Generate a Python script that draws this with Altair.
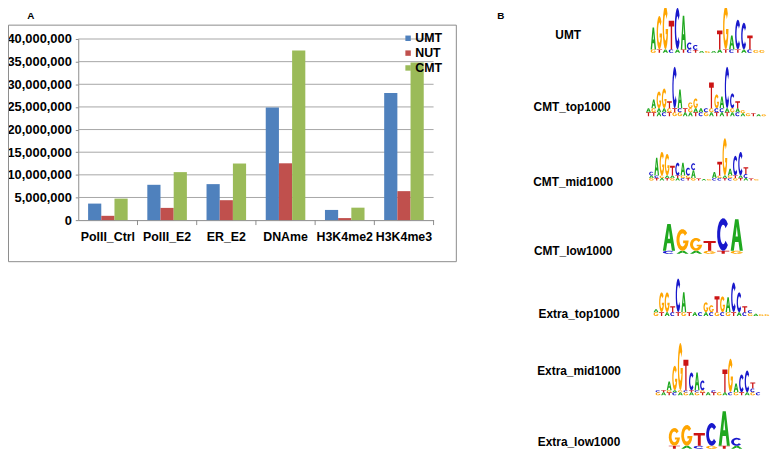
import altair as alt
import numpy as np
import pandas as pd

FONT = "Liberation Sans"
MARGIN = 8
W, H = 776, 447

# ---------------- Panel A data ----------------
CATEGORIES = ["PolII_Ctrl", "PolII_E2", "ER_E2", "DNAme", "H3K4me2", "H3K4me3"]
SERIES = ["UMT", "NUT", "CMT"]
UMT_VALUES = [3.65e6, 7.8e6, 7.95e6, 24.9e6, 2.25e6, 28.1e6]
NUT_VALUES = [0.95e6, 2.7e6, 4.4e6, 12.55e6, 0.45e6, 6.4e6]
CMT_VALUES = [4.75e6, 10.6e6, 12.5e6, 37.45e6, 2.75e6, 34.8e6]
Y_TICKS = [0, 5e6, 10e6, 15e6, 20e6, 25e6, 30e6, 35e6, 40e6]
SERIES_COLORS = ["#4F81BD", "#C0504D", "#9BBB59"]

# ---------------- Panel B data (sequence logos) ----------------
LOGO_NAMES = ["UMT", "CMT_top1000", "CMT_mid1000", "CMT_low1000",
              "Extra_top1000", "Extra_mid1000", "Extra_low1000"]

# letters of each column, bottom -> top
LOGO_LETTERS = {
    "UMT": ["GA", "TG", "AG", "CT", "AC", "TA", "CC", "TC", "A", "G", "A",
            "AT", "TG", "CA", "TC", "AC", "CT", "G", "G"],
    "CMT_top1000": ["TA", "TGA", "AAG", "CAG", "TGT", "GTC", "GCA", "AT", "AGG",
                    "TAG", "CA", "GC", "AGT", "TCG", "ACA", "TAC", "AGC", "CAT",
                    "AG", "G", "T", "A", "G"],
    "CMT_mid1000": ["GAC", "TCA", "AGG", "TAG", "GAT", "ATC", "CGA", "TGC", "GAC",
                    "T", "A", "G", "CA", "CGT", "TAG", "CGA", "GTC", "TAC", "ACT",
                    "T", "G"],
    "CMT_low1000": ["CA", "AG", "AG", "GT", "TC", "GA"],
    "Extra_top1000": ["GA", "TG", "AG", "CT", "TC", "GA", "T", "A", "C", "AG", "CG",
                      "GT", "CG", "GA", "TC", "AC", "CT", "GC", "A", "G", "G"],
    "Extra_mid1000": ["GC", "AT", "TGA", "CAG", "AGG", "GCT", "ATC", "GCA", "TGC",
                      "A", "TC", "G", "AT", "CG", "GA", "TC", "AC", "GCT", "C"],
    "Extra_low1000": ["TG", "AG", "CT", "GC", "TA", "AC"],
}
# letter heights of each column, bottom -> top
LOGO_HEIGHTS = {
    "UMT": [[3.5, 22], [3.5, 34], [3.5, 44], [3.5, 29], [3.5, 42], [3.5, 34],
            [3.5, 7], [3, 5], [2], [2], [2], [3.5, 19], [3.5, 44], [3.5, 14],
            [3.5, 30], [3.5, 27], [3.5, 14], [3], [3]],
    "CMT_top1000": [[4, 4], [4, 4, 9], [4, 4, 17], [4, 4, 20], [4, 4, 7], [4, 4, 42],
                    [4, 4, 19], [4, 4], [4, 4, 6], [4, 4, 10], [4, 4], [4, 4],
                    [4, 4, 26], [4, 4, 14], [4, 4, 12], [4, 4, 42], [4, 4, 15],
                    [4, 4, 7], [3, 3], [3], [3], [2], [2]],
    "CMT_mid1000": [[2.5, 2.5, 4], [2.5, 2.5, 18], [2.5, 2.5, 24], [2.5, 2.5, 22],
                    [2.5, 2.5, 10], [2.5, 2.5, 13], [2.5, 2.5, 13], [2.5, 2.5, 8],
                    [2.5, 8, 7], [2], [1.5], [1.5], [2.5, 6], [2.5, 2.5, 14],
                    [2.5, 2.5, 38], [2.5, 2.5, 7], [2.5, 2.5, 20], [2.5, 2.5, 24],
                    [2.5, 4, 7], [2], [1.5]],
    "CMT_low1000": [[3, 27], [3, 22], [3, 13], [3, 10], [3, 33], [3, 32]],
    "Extra_top1000": [[4, 3], [4, 20], [4, 20], [4, 6], [4, 34], [4, 20], [4], [4],
                      [4], [4, 10], [4, 7], [4, 16], [4, 16], [4, 15], [4, 30],
                      [4, 20], [4, 6], [3, 3], [2.5], [2], [2]],
    "Extra_mid1000": [[3, 2], [3, 2], [3, 2, 9], [3, 2, 25], [3, 2, 48], [3, 2, 31],
                      [3, 2, 18], [3, 2, 18], [3, 2, 10], [3], [3, 2], [3], [3, 23],
                      [3, 34], [3, 9], [3, 18], [3, 22], [3, 4, 6], [3]],
    "Extra_low1000": [[3, 18], [3, 21], [3, 13], [3, 23], [3, 35], [3, 8]],
}

# layout of each logo (page pixels): left edge, column width, baseline, label centre
LOGO_LAYOUT = {
    "UMT": dict(x0=657, w=6.1, base=51, lx=574, ly=33),
    "CMT_top1000": dict(x0=652.5, w=5.3, base=115, lx=578, ly=106),
    "CMT_mid1000": dict(x0=655.5, w=5.3, base=180, lx=579, ly=182),
    "CMT_low1000": dict(x0=669, w=13.7, base=254, lx=579, ly=251),
    "Extra_top1000": dict(x0=660, w=5.6, base=317, lx=585, ly=315),
    "Extra_mid1000": dict(x0=662, w=5.63, base=397, lx=585, ly=372),
    "Extra_low1000": dict(x0=675, w=12.6, base=451, lx=585, ly=444),
}
LETTER_COLORS = {"A": "#1FA81F", "C": "#1818CC", "G": "#FFA500", "T": "#CC1414"}


# ---------------- glyph outlines (unit box, v up) ----------------
def arc(cx, cy, rx, ry, a0, a1, n=16):
    t = np.radians(np.linspace(a0, a1, n))
    return list(zip(cx + rx * np.cos(t), cy + ry * np.sin(t)))


GLYPHS = {
    "A": [[(0, 0), (0.36, 1), (0.64, 1), (1, 0), (0.74, 0), (0.645, 0.28),
           (0.355, 0.28), (0.26, 0)],
          [(0.41, 0.45), (0.59, 0.45), (0.5, 0.77)]],
    "T": [[(0, 1), (1, 1), (1, 0.8), (0.63, 0.8), (0.63, 0), (0.37, 0),
           (0.37, 0.8), (0, 0.8)]],
    "C": [arc(0.5, 0.5, 0.5, 0.5, 40, 320) + arc(0.5, 0.5, 0.25, 0.3, 320, 40)],
    "G": [arc(0.5, 0.5, 0.5, 0.5, 40, 352)
          + [(1.0, 0.47), (0.55, 0.47), (0.55, 0.35), (0.74, 0.35)]
          + arc(0.5, 0.5, 0.25, 0.3, 325, 40)],
}


def glyph_path(letter, h, gw):
    k = 2.0 * h / gw
    parts = []
    for contour in GLYPHS[letter]:
        pts = [f"{2 * u - 1:.3f},{-k * v:.3f}" for u, v in contour]
        parts.append("M" + " L".join(pts) + " Z")
    return " ".join(parts)


# ---------------- build tables ----------------
bars = pd.DataFrame({
    "cat": CATEGORIES * 3,
    "series": [s for s in SERIES for _ in CATEGORIES],
    "value": UMT_VALUES + NUT_VALUES + CMT_VALUES,
})

rows = []
for name in LOGO_NAMES:
    lay = LOGO_LAYOUT[name]
    gw = lay["w"] * 0.9
    for k, (letters, hs) in enumerate(zip(LOGO_LETTERS[name], LOGO_HEIGHTS[name])):
        y = lay["base"]
        for ch, h in zip(letters, hs):
            rows.append({
                "px": lay["x0"] + (k + 0.5) * lay["w"] - MARGIN,
                "py": y - MARGIN,
                "shape": glyph_path(ch, h, gw),
                "size": gw * gw,
                "col": LETTER_COLORS[ch],
            })
            y -= h
letters_df = pd.DataFrame(rows)

labels_df = pd.DataFrame({
    "name": LOGO_NAMES,
    "px": [LOGO_LAYOUT[n]["lx"] - MARGIN for n in LOGO_NAMES],
    "py": [LOGO_LAYOUT[n]["ly"] - MARGIN for n in LOGO_NAMES],
})

# ---------------- scales ----------------
Y0_PX, Y40_PX = 220 - MARGIN, 37 - MARGIN
X_LEFT, X_RIGHT = 79 - MARGIN, 438 - MARGIN
yscale = alt.Scale(domain=[0, 40e6], range=[Y0_PX, Y40_PX], nice=False, zero=True)
xscale = alt.Scale(domain=CATEGORIES, range=[X_LEFT, X_RIGHT], paddingInner=0, paddingOuter=0)
px_scale = alt.Scale(domain=[0, W], range=[0, W], nice=False, zero=False)
py_scale = alt.Scale(domain=[0, H], range=[0, H], nice=False, zero=False)
GRAY = "#8C8C8C"

frame = alt.Chart(alt.Data(values=[{}])).mark_rect(
    fillOpacity=0, stroke=GRAY, strokeWidth=1
).encode(x=alt.value(0.5), x2=alt.value(461 - MARGIN), y=alt.value(23 - MARGIN),
         y2=alt.value(262 - MARGIN))

grid = alt.Chart(pd.DataFrame({"v": Y_TICKS[1:]})).mark_rule(
    color="#A6A6A6", strokeWidth=1
).encode(y=alt.Y("v:Q", scale=yscale, axis=None),
         x=alt.value(X_LEFT), x2=alt.value(X_RIGHT))

xticks = alt.Chart(pd.DataFrame({"cat": CATEGORIES})).mark_rule(
    color=GRAY, strokeWidth=1
).encode(x=alt.X("cat:N", scale=xscale, sort=CATEGORIES, axis=None, bandPosition=1),
         y=alt.value(Y0_PX), y2=alt.value(Y0_PX + 5))

bar_layer = alt.Chart(bars).mark_bar().encode(
    x=alt.X("cat:N", sort=CATEGORIES, scale=xscale, title=None,
            axis=alt.Axis(offset=-(H - Y0_PX), ticks=False, tickSize=0, labelAngle=0,
                          labelPadding=11, domainColor=GRAY, labelFont=FONT,
                          labelFontSize=12.5, labelFontWeight="bold", labelColor="black",
                          labelOverlap=False, grid=False)),
    xOffset=alt.XOffset("series:N", sort=SERIES,
                        scale=alt.Scale(domain=SERIES, paddingInner=0, paddingOuter=0.745)),
    y=alt.Y("value:Q", scale=yscale, title=None,
            axis=alt.Axis(values=Y_TICKS, format=",d", offset=-X_LEFT, grid=False,
                          domainColor=GRAY, tickColor=GRAY, tickSize=3, labelPadding=4,
                          labelFont=FONT, labelFontSize=13, labelFontWeight="bold",
                          labelColor="black")),
    color=alt.Color("series:N", sort=SERIES,
                    scale=alt.Scale(domain=SERIES, range=SERIES_COLORS),
                    legend=alt.Legend(orient="none", legendX=398, legendY=22, title=None,
                                      symbolType="square", symbolSize=30,
                                      symbolStrokeWidth=0, labelFont=FONT,
                                      labelFontSize=12.5, labelFontWeight="bold",
                                      labelColor="black", labelOffset=1, rowPadding=2,
                                      padding=0)),
)

panel_letters = alt.Chart(alt.Data(values=[{"t": "A", "x": 31 - MARGIN, "y": 6},
                                           {"t": "B", "x": 506 - MARGIN, "y": 6}])
                          ).mark_text(font=FONT, fontSize=10, fontWeight="bold",
                                      color="black", baseline="middle").encode(
    x=alt.X("x:Q", scale=px_scale, axis=None),
    y=alt.Y("y:Q", scale=py_scale, axis=None),
    text="t:N",
)

logo_labels = alt.Chart(labels_df).mark_text(
    font=FONT, fontSize=12, fontWeight="bold", color="black", baseline="middle",
    align="center"
).encode(
    x=alt.X("px:Q", scale=px_scale, axis=None),
    y=alt.Y("py:Q", scale=py_scale, axis=None),
    text="name:N",
)

logo_letters = alt.Chart(letters_df).mark_point(
    filled=True, opacity=1, strokeWidth=0
).encode(
    x=alt.X("px:Q", scale=px_scale, axis=None),
    y=alt.Y("py:Q", scale=py_scale, axis=None),
    shape=alt.Shape("shape:N", scale=None, legend=None),
    size=alt.Size("size:Q", scale=None, legend=None),
    color=alt.Color("col:N", scale=None, legend=None),
)

chart = alt.layer(
    frame, grid, xticks, bar_layer, panel_letters, logo_labels, logo_letters
).resolve_scale(
    x="independent", y="independent", color="independent", shape="independent",
    size="independent"
).properties(
    width=W, height=H, autosize=alt.AutoSizeParams(type="none"), padding=0
).configure_view(stroke=None)

chart.save("out.html", embed_options={"renderer": "svg", "actions": False})
